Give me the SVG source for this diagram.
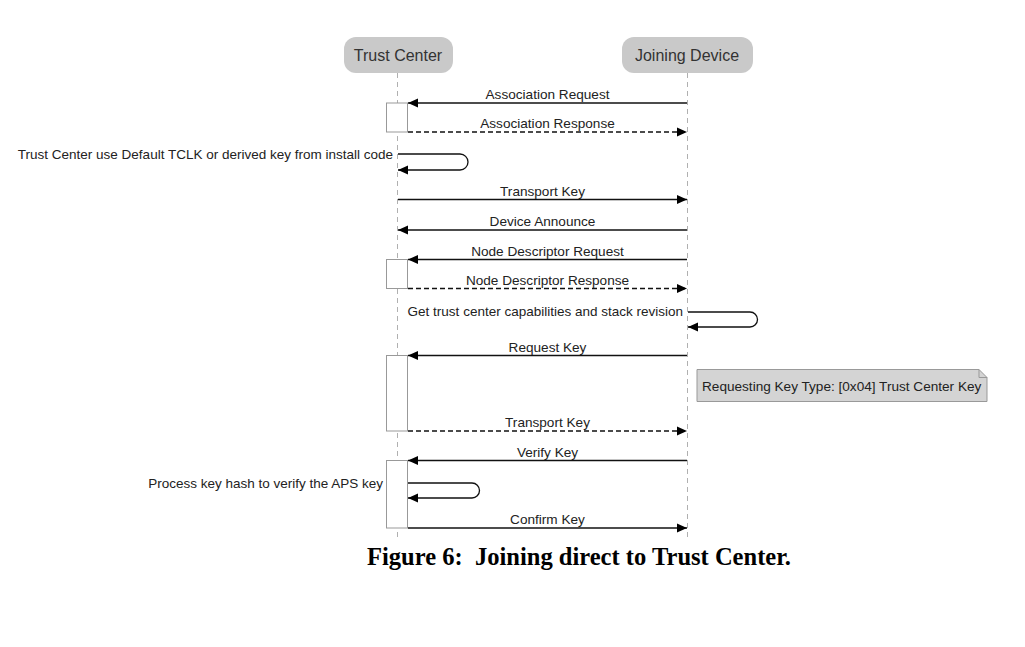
<svg xmlns="http://www.w3.org/2000/svg" width="1025" height="647" viewBox="0 0 1025 647">
<style>
.hdr{fill:#c9c9c9}
.hdrt{font-family:"Liberation Sans",Arial,sans-serif;font-size:16px;fill:#333;text-anchor:middle}
.life{stroke:#b0b0b0;stroke-width:1;stroke-dasharray:5,4;fill:none}
.act{fill:#fff;stroke:#999;stroke-width:1}
.msg{stroke:#111;stroke-width:1.3;fill:none}
.dash{stroke-dasharray:5,3}
.lbl{font-family:"Liberation Sans",Arial,sans-serif;font-size:13.6px;fill:#222;text-anchor:middle}
.side{font-family:"Liberation Sans",Arial,sans-serif;font-size:13.5px;fill:#222;text-anchor:end}
.note{fill:#d4d4d4;stroke:#999;stroke-width:1}
.notet{font-family:"Liberation Sans",Arial,sans-serif;font-size:13.6px;fill:#222}
.cap{font-family:"Liberation Serif","Times New Roman",serif;font-size:24.5px;font-weight:bold;fill:#000}
</style>
<defs>
<marker id="arr" markerUnits="userSpaceOnUse" markerWidth="10" markerHeight="10" refX="10" refY="5" orient="auto">
<path d="M0,0.5 L10,5 L0,9.5 z" fill="#000"/>
</marker>
</defs>
<rect width="1025" height="647" fill="#fff"/>
<g id="trust-center">
<rect class="hdr" x="344" y="37" width="109" height="36" rx="12"/>
<text class="hdrt" x="398" y="61">Trust Center</text>
<line class="life" x1="397.5" y1="73" x2="397.5" y2="541"/>
</g>
<g id="joining-device">
<rect class="hdr" x="622" y="37" width="131" height="36" rx="12"/>
<text class="hdrt" x="687" y="61">Joining Device</text>
<line class="life" x1="687.5" y1="73" x2="687.5" y2="541"/>
</g>
<g id="activations">
<rect id="act1" class="act" x="386.5" y="103" width="21" height="29"/>
<rect id="act2" class="act" x="386.5" y="259.5" width="21" height="29"/>
<rect id="act3" class="act" x="386.5" y="355.5" width="21" height="75.5"/>
<rect id="act4" class="act" x="386.5" y="460.5" width="21" height="67.5"/>
</g>
<g id="note">
<path class="note" d="M697,369.5 H979 L987,377.5 V401.5 H697 Z"/>
<path d="M979,369.5 V377.5 H987" fill="none" stroke="#999" stroke-width="1"/>
<text class="notet" x="702" y="391">Requesting Key Type: [0x04] Trust Center Key</text>
</g>
<g id="connectors">
<line class="msg" x1="687" y1="103" x2="408" y2="103" marker-end="url(#arr)"/>
<text class="lbl" x="547.5" y="99">Association Request</text>
<line class="msg dash" x1="408" y1="132" x2="687" y2="132" marker-end="url(#arr)"/>
<text class="lbl" x="547.5" y="128">Association Response</text>
<path class="msg" d="M398,154 H460 A8,8 0 0 1 460,170 H398" marker-end="url(#arr)"/>
<text class="side" x="393" y="159">Trust Center use Default TCLK or derived key from install code</text>
<line class="msg" x1="398" y1="199.5" x2="687" y2="199.5" marker-end="url(#arr)"/>
<text class="lbl" x="542.5" y="195.5">Transport Key</text>
<line class="msg" x1="687" y1="230" x2="398" y2="230" marker-end="url(#arr)"/>
<text class="lbl" x="542.5" y="226">Device Announce</text>
<line class="msg" x1="687" y1="259.5" x2="408" y2="259.5" marker-end="url(#arr)"/>
<text class="lbl" x="547.5" y="255.5">Node Descriptor Request</text>
<line class="msg dash" x1="408" y1="288.5" x2="687" y2="288.5" marker-end="url(#arr)"/>
<text class="lbl" x="547.5" y="284.5">Node Descriptor Response</text>
<path class="msg" d="M688,312 H750 A7.5,7.5 0 0 1 750,327 H688" marker-end="url(#arr)"/>
<text class="side" x="683" y="316">Get trust center capabilities and stack revision</text>
<line class="msg" x1="687" y1="355.5" x2="408" y2="355.5" marker-end="url(#arr)"/>
<text class="lbl" x="547.5" y="351.5">Request Key</text>
<line class="msg dash" x1="408" y1="431" x2="687" y2="431" marker-end="url(#arr)"/>
<text class="lbl" x="547.5" y="427">Transport Key</text>
<line class="msg" x1="687" y1="460.5" x2="408" y2="460.5" marker-end="url(#arr)"/>
<text class="lbl" x="547.5" y="456.5">Verify Key</text>
<path class="msg" d="M408,483 H472 A7.5,7.5 0 0 1 472,498 H408" marker-end="url(#arr)"/>
<text class="side" x="383" y="488">Process key hash to verify the APS key</text>
<line class="msg" x1="408" y1="528" x2="687" y2="528" marker-end="url(#arr)"/>
<text class="lbl" x="547.5" y="524">Confirm Key</text>
</g>
<text class="cap" x="367" y="565" xml:space="preserve" textLength="424" lengthAdjust="spacingAndGlyphs">Figure 6:  Joining direct to Trust Center.</text>
</svg>
